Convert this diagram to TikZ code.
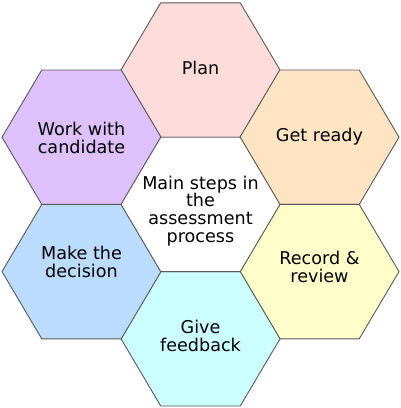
\documentclass[tikz,border=0pt]{standalone}
\usepackage{fontspec}
\setmainfont{DejaVu Sans}
\definecolor{cplan}{HTML}{FFDCDC}
\definecolor{cready}{HTML}{FFE4C4}
\definecolor{crecord}{HTML}{FFFDCA}
\definecolor{cfeed}{HTML}{CCFFFF}
\definecolor{cdecide}{HTML}{BBDBFF}
\definecolor{cwork}{HTML}{DDC0FC}
\definecolor{cedge}{HTML}{5A5A5A}
\tikzset{
  hexfill/.style={draw=cedge, line width=0.9pt, line join=miter},
  hextext/.style={align=center, font=\fontsize{17.6}{17.8}\selectfont, text=black, inner sep=0pt},
}
\newcommand{\hexpath}[2]{%
  (#1-79.5,#2) -- (#1-39.75,#2-67.2) -- (#1+39.75,#2-67.2) -- (#1+79.5,#2) -- (#1+39.75,#2+67.2) -- (#1-39.75,#2+67.2) -- cycle}
\begin{document}
\begin{tikzpicture}[x=1pt,y=-1pt]
\useasboundingbox (0,0) rectangle (400,408);
\fill[white] (0,0) rectangle (400,408);
\draw[hexfill, fill=cplan]   \hexpath{200.5}{70};
\draw[hexfill, fill=cready]  \hexpath{319.5}{137.2};
\draw[hexfill, fill=crecord] \hexpath{319.5}{271.6};
\draw[hexfill, fill=cfeed]   \hexpath{200.5}{338.8};
\draw[hexfill, fill=cdecide] \hexpath{81.5}{271.6};
\draw[hexfill, fill=cwork]   \hexpath{81.5}{137.2};
\draw[hexfill, fill=white]   \hexpath{200.5}{204.4};
\node[hextext] (center) at (200.5,211) {Main steps in\\the\\assessment\\process};
\node[hextext] (plan) at (200.5,68) {Plan};
\node[hextext] (ready) at (319.5,137) {Get ready};
\node[hextext] (record) at (319.5,267) {Record \&\\review};
\node[hextext] (feed) at (200.5,336) {Give\\feedback};
\node[hextext] (decide) at (81.5,262) {Make the\\decision};
\node[hextext] (work) at (81.5,138) {Work with\\candidate};
\end{tikzpicture}
\end{document}
